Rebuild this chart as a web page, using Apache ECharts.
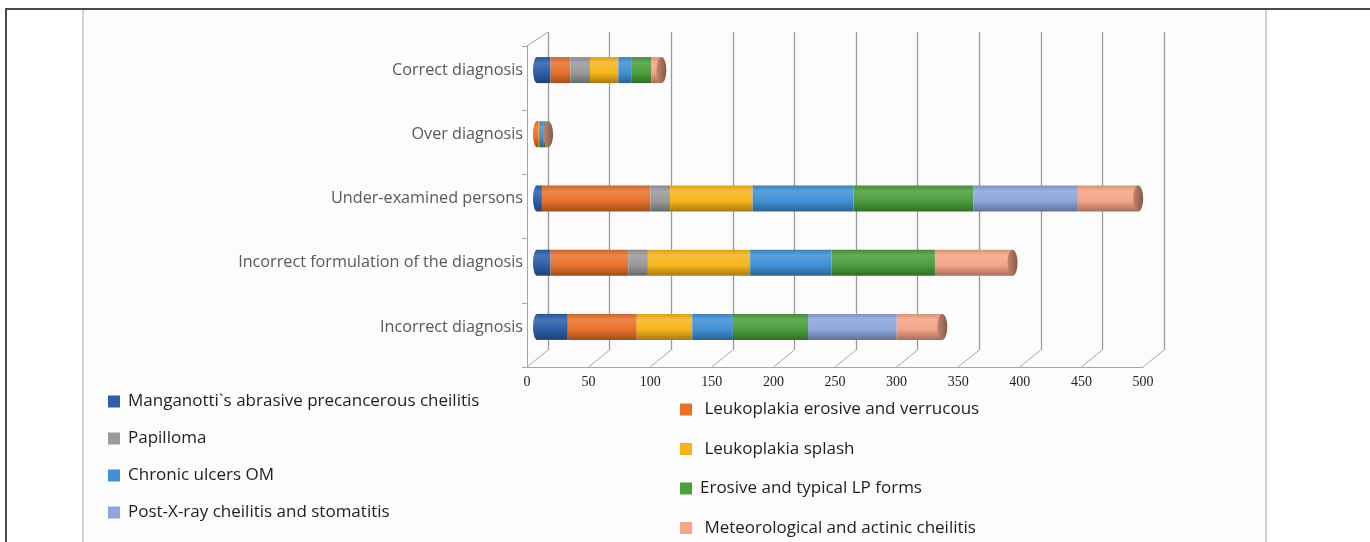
<!DOCTYPE html>
<html>
<head>
<meta charset="utf-8">
<title>Diagnosis structure by disease</title>
<script src="https://cdn.jsdelivr.net/npm/echarts@6/dist/echarts.min.js"></script>
<style>
  html, body { margin: 0; padding: 0; background: #ffffff; }
  #chart { width: 1370px; height: 542px; }
</style>
</head>
<body>
<div id="chart"></div>
<script>
// Diagnosis categories, listed bottom-to-top as the category axis draws them
const categories = [
  'Incorrect diagnosis',
  'Incorrect formulation of the diagnosis',
  'Under-examined persons',
  'Over diagnosis',
  'Correct diagnosis'
];

// Cases per disease group for each diagnosis category
const manganotti   = [25, 11, 4, 0, 11];
const leukErosive  = [56, 63, 88, 1, 16];
const papilloma    = [0, 16, 16, 0, 16];
const leukSplash   = [45, 83, 67, 1, 23];
const chronicUlcer = [33, 66, 82, 3, 11];
const erosiveLP    = [61, 84, 97, 2, 16];
const postXray     = [72, 0, 85, 0, 0];
const meteorolog   = [37, 63, 49, 2, 8];

// Value-axis ticks
const axisTicks = [0, 50, 100, 150, 200, 250, 300, 350, 400, 450, 500];

const seriesDefs = [
  { name: 'Manganotti`s abrasive precancerous cheilitis', data: manganotti,   color: '#2d5fa9' },
  { name: 'Leukoplakia erosive and verrucous',            data: leukErosive,  color: '#e8722c' },
  { name: 'Papilloma',                                    data: papilloma,    color: '#9a9a9a' },
  { name: 'Leukoplakia splash',                           data: leukSplash,   color: '#f6b51c' },
  { name: 'Chronic ulcers OM',                            data: chronicUlcer, color: '#4290d6' },
  { name: 'Erosive and typical LP forms',                 data: erosiveLP,    color: '#4c9f3c' },
  { name: 'Post-X-ray cheilitis and stomatitis',          data: postXray,     color: '#8ea6dc' },
  { name: 'Meteorological and actinic cheilitis',         data: meteorolog,   color: '#f4a587' }
];

function shade(hex, f) {
  const n = parseInt(hex.slice(1), 16);
  let r = (n >> 16) & 255, g = (n >> 8) & 255, b = n & 255;
  const t = f < 0 ? 0 : 255, p = Math.abs(f);
  r = Math.round((t - r) * p + r);
  g = Math.round((t - g) * p + g);
  b = Math.round((t - b) * p + b);
  return 'rgb(' + r + ',' + g + ',' + b + ')';
}

// Vertical gradient giving each bar a rounded, cylindrical look
function cylinder(c) {
  return new echarts.graphic.LinearGradient(0, 0, 0, 1, [
    { offset: 0, color: shade(c, -0.12) },
    { offset: 0.22, color: shade(c, 0.14) },
    { offset: 0.6, color: c },
    { offset: 1, color: shade(c, -0.32) }
  ]);
}

// Stack totals and the first / last visible segment colour per category (for end caps)
const totals = categories.map((_, i) => seriesDefs.reduce((s, d) => s + d.data[i], 0));
const firstColor = categories.map((_, i) => {
  const d = seriesDefs.find(s => s.data[i] > 0);
  return d ? d.color : '#999';
});
const lastColor = categories.map((_, i) => {
  const d = seriesDefs.slice().reverse().find(s => s.data[i] > 0);
  return d ? d.color : '#999';
});

const labelFont = '"Open Sans", Lato, sans-serif';

const barSeries = seriesDefs.map(d => ({
  name: d.name,
  type: 'bar',
  stack: 'total',
  xAxisIndex: 2,
  yAxisIndex: 2,
  barWidth: 26,
  itemStyle: { color: cylinder(d.color) },
  emphasis: { disabled: true },
  data: d.data,
  z: 3
}));

// Left rounded ends of each cylinder
const startCaps = {
  type: 'custom',
  xAxisIndex: 2,
  yAxisIndex: 2,
  silent: true,
  z: 2,
  data: categories.map((_, i) => [0, i]),
  renderItem: (params, api) => {
    const p = api.coord([api.value(0), api.value(1)]);
    const c = firstColor[params.dataIndex];
    return {
      type: 'circle',
      x: p[0], y: p[1], scaleX: 4 / 13,
      shape: { cx: 0, cy: 0, r: 13 },
      style: { fill: cylinder(c) }
    };
  }
};

// Right end faces of each cylinder
const endCaps = {
  type: 'custom',
  xAxisIndex: 2,
  yAxisIndex: 2,
  silent: true,
  z: 5,
  data: totals.map((t, i) => [t, i]),
  renderItem: (params, api) => {
    const p = api.coord([api.value(0), api.value(1)]);
    const c = lastColor[params.dataIndex];
    return {
      type: 'circle',
      x: p[0], y: p[1], scaleX: 5 / 13,
      shape: { cx: 0, cy: 0, r: 13 },
      style: {
        fill: new echarts.graphic.LinearGradient(0, 0, 1, 0, [
          { offset: 0, color: shade(c, -0.2) },
          { offset: 1, color: shade(c, -0.45) }
        ])
      }
    };
  }
};

// Floor lines joining the front value axis to the back wall
const floorLines = {
  type: 'custom',
  xAxisIndex: 1,
  yAxisIndex: 1,
  silent: true,
  z: 1,
  data: axisTicks.map(v => [v, 0]),
  renderItem: (params, api) => {
    const cs = params.coordSys;
    const x = api.coord([api.value(0), 0])[0];
    const yb = cs.y + cs.height;
    const children = [{
      type: 'line',
      shape: { x1: x, y1: yb, x2: x + 21, y2: yb - 17 },
      style: { stroke: '#a6a6a6', lineWidth: 1 }
    }];
    if (params.dataIndex === 0) {
      children.push({
        type: 'line',
        shape: { x1: x, y1: cs.y, x2: x + 21, y2: cs.y - 14 },
        style: { stroke: '#a6a6a6', lineWidth: 1 }
      });
    }
    return { type: 'group', children };
  }
};

const legendText = { fontFamily: labelFont, fontSize: 17, color: '#1e1e1e', lineHeight: 17, padding: [0, 0, 0, 3] };
const legendItem = i => ({ name: seriesDefs[i].name, itemStyle: { color: seriesDefs[i].color } });

const chart = echarts.init(document.getElementById('chart'), null, { renderer: 'canvas' });

chart.setOption({
  animation: false,
  backgroundColor: '#ffffff',
  graphic: [
    { type: 'rect', shape: { x: 83, y: 9, width: 1183, height: 540 }, style: { fill: '#fcfcfc' }, z: -10 },
    { type: 'line', shape: { x1: 83, y1: 9, x2: 83, y2: 542 }, style: { stroke: '#c4c4c4', lineWidth: 1.5 }, z: -5 },
    { type: 'line', shape: { x1: 1266, y1: 9, x2: 1266, y2: 542 }, style: { stroke: '#c4c4c4', lineWidth: 1.5 }, z: -5 },
    { type: 'line', shape: { x1: 6, y1: 9, x2: 1370, y2: 9 }, style: { stroke: '#4a4a4a', lineWidth: 2 }, z: -4 },
    { type: 'line', shape: { x1: 6, y1: 8, x2: 6, y2: 542 }, style: { stroke: '#4a4a4a', lineWidth: 2 }, z: -4 }
  ],
  legend: [
    {
      orient: 'vertical',
      left: 108,
      top: 393,
      padding: 0,
      height: 145,
      itemWidth: 12,
      itemHeight: 12,
      itemGap: 20,
      icon: 'rect',
      selectedMode: false,
      textStyle: legendText,
      data: [legendItem(0), legendItem(2), legendItem(4), legendItem(6)]
    },
    {
      orient: 'vertical',
      left: 680,
      top: 401,
      padding: 0,
      height: 140,
      itemWidth: 12,
      itemHeight: 12,
      itemGap: 22.5,
      icon: 'rect',
      selectedMode: false,
      textStyle: legendText,
      formatter: name => (name === seriesDefs[5].name ? name : ' ' + name),
      data: [legendItem(1), legendItem(3), legendItem(5), legendItem(7)]
    }
  ],
  grid: [
    // back wall with gridlines
    { left: 548, top: 32, width: 616, height: 318 },
    // front floor edge carrying the value labels
    { left: 527, top: 46, width: 616, height: 321 },
    // the bars
    { left: 537, top: 38, width: 616, height: 321 }
  ],
  xAxis: [
    {
      gridIndex: 0, type: 'value', min: 0, max: 500, interval: 50,
      axisLine: { show: false }, axisTick: { show: false }, axisLabel: { show: false },
      splitLine: { show: true, lineStyle: { color: '#9c9c9c', width: 1.3 } }
    },
    {
      gridIndex: 1, type: 'value', min: 0, max: 500, interval: 50,
      axisLine: { show: true, lineStyle: { color: '#a6a6a6', width: 1 } },
      axisTick: { show: false },
      splitLine: { show: false },
      axisLabel: { margin: 8, fontFamily: '"Liberation Serif", "DejaVu Serif", serif', fontSize: 14, color: '#222' }
    },
    {
      gridIndex: 2, type: 'value', min: 0, max: 500, interval: 50, show: false
    }
  ],
  yAxis: [
    { gridIndex: 0, type: 'category', data: categories, show: false },
    {
      gridIndex: 1, type: 'category', data: categories,
      axisLine: { show: true, lineStyle: { color: '#a6a6a6' } },
      axisTick: { show: true, length: 5, lineStyle: { color: '#a6a6a6' } },
      axisLabel: { show: false },
      splitLine: { show: false }
    },
    {
      gridIndex: 2, type: 'category', data: categories,
      axisLine: { show: false }, axisTick: { show: false }, splitLine: { show: false },
      axisLabel: { margin: 14, fontFamily: labelFont, fontSize: 16.2, color: '#595959' }
    }
  ],
  series: [floorLines, startCaps, ...barSeries, endCaps]
});
</script>
</body>
</html>
